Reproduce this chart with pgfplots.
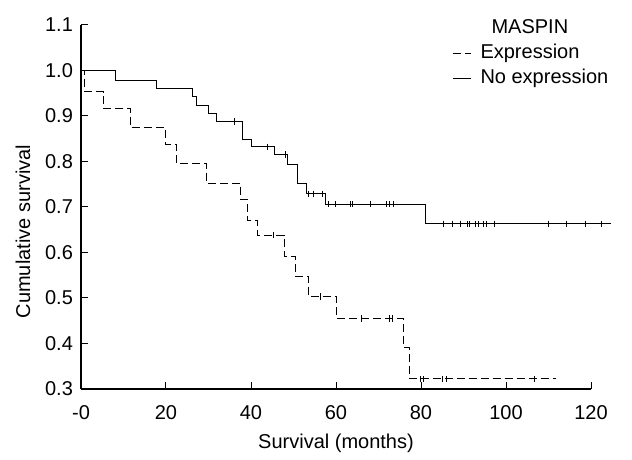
\documentclass[border=0pt]{standalone}
\usepackage{fontspec}
\setmainfont{Liberation Sans}
\usepackage{pgfplots}
\pgfplotsset{compat=1.18}

\begin{document}
\begin{tikzpicture}[font=\fontsize{10}{12}\selectfont]
\begin{axis}[
    scale only axis,
    width=255pt, height=182pt,
    xmin=0, xmax=120, ymin=0.3, ymax=1.1,
    axis lines=left,
    axis line style={-, line width=0.6pt},
    tick align=inside,
    major tick length=3.5pt,
    tick style={black, line width=0.5pt},
    xtick={0,20,40,60,80,100,120},
    xticklabels={-0,20,40,60,80,100,120},
    ytick={0.3,0.4,0.5,0.6,0.7,0.8,0.9,1.0,1.1},
    yticklabels={0.3,0.4,0.5,0.6,0.7,0.8,0.9,1.0,1.1},
    xticklabel style={yshift=-4.5pt},
    yticklabel style={xshift=-0.5pt},
    xlabel={Survival (months)},
    ylabel={Cumulative survival},
    xlabel style={at={([yshift=-30pt]axis description cs:0.5,0)}, anchor=base},
    ylabel style={at={([xshift=-29pt]axis description cs:0,0.4325)}, anchor=center},
    clip=false,
    legend cell align=left,
    legend style={at={(axis description cs:0.7275,1.019)}, anchor=north west,
        draw=none, fill=none, inner sep=0pt, row sep=2.9pt, column sep=4.5pt,
        nodes={inner sep=0pt, text height=7.3pt, text depth=2.3pt}},
    legend image code/.code={\draw[#1] (0pt,0pt) -- (9pt,0pt);},
]
\coordinate (O) at (rel axis cs:0,0);

\addlegendimage{empty legend}
\addlegendentry{\hspace{5.5pt}MASPIN}

% Expression
\addplot[const plot, black, line width=0.5pt, dash pattern=on 4pt off 2pt] coordinates {
    (0,1.0) (0.9,0.953) (5.2,0.917) (11.7,0.874) (19.8,0.838) (22.4,0.796)
    (29.6,0.752) (37.6,0.717) (39.2,0.671) (41.5,0.638) (47.8,0.591)
    (50.5,0.547) (53.6,0.503) (60.0,0.455) (75.9,0.392) (77.4,0.322)
    (111.8,0.322)
};
\addlegendentry{Expression}

% No expression
\addplot[const plot, black, line width=0.55pt] coordinates {
    (0,1.0) (8.2,0.978) (17.8,0.961) (26.2,0.943) (27.1,0.923) (30.0,0.905)
    (31.8,0.888) (38.0,0.849) (40.1,0.832) (45.6,0.815) (48.6,0.793)
    (50.9,0.751) (53.0,0.729) (57.5,0.706) (81.1,0.663) (124.6,0.663)
};
\addlegendentry{No expression}

% censored cases
\addplot[only marks, mark=|, mark size=1.6pt, mark options={black, line width=0.5pt}, forget plot] coordinates {
    (45.3,0.638) (56.3,0.503) (65.9,0.455) (72.7,0.455) (73.3,0.455)
    (79.9,0.322) (80.6,0.322) (85.1,0.322) (86.0,0.322) (106.8,0.322)
};
\addplot[only marks, mark=|, mark size=1.6pt, mark options={black, line width=0.5pt}, forget plot] coordinates {
    (36.2,0.888) (43.9,0.832) (48.2,0.815) (53.6,0.729) (54.7,0.729) (56.9,0.729)
    (58.2,0.706) (59.8,0.706) (63.3,0.706) (63.8,0.706) (68.2,0.706) (71.9,0.706)
    (72.5,0.706) (73.6,0.706) (85.2,0.663) (87.4,0.663) (89.2,0.663) (91.0,0.663)
    (91.5,0.663) (92.9,0.663) (93.6,0.663) (94.8,0.663) (95.5,0.663) (97.3,0.663)
    (109.9,0.663) (114.3,0.663) (118.7,0.663) (122.4,0.663)
};
\end{axis}
\path (O) ++(-40.5pt,-31.5pt) rectangle ++(316pt,226pt);
\end{tikzpicture}
\end{document}
